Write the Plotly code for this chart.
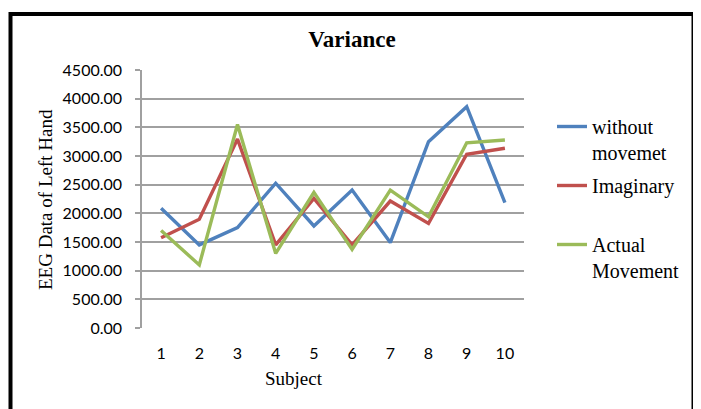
import plotly.graph_objects as go

subjects = [1, 2, 3, 4, 5, 6, 7, 8, 9, 10]
without_movement = [2090, 1450, 1750, 2525, 1780, 2405, 1490, 3250, 3860, 2185]
imaginary = [1575, 1895, 3295, 1450, 2260, 1450, 2215, 1825, 3030, 3135]
actual_movement = [1700, 1100, 3550, 1300, 2365, 1370, 2405, 1940, 3230, 3280]
series_names = ["without<br>movemet", "Imaginary<br> ", "Actual<br>Movement"]
colors = ["#4f81bd", "#c0504d", "#9bbb59"]
y_ticks = [0, 500, 1000, 1500, 2000, 2500, 3000, 3500, 4000, 4500]

# page body has an 8px margin; work in screen coordinates and convert
OFF = 8
W, H = 701 - OFF, 409 - OFF
L, R, T, B = 142 - OFF, 524 - OFF, 70 - OFF, 328 - OFF
pw, ph = R - L, B - T

def px(x):
    return (x - OFF - L) / pw

def py(y):
    return (B - (y - OFF)) / ph

fig = go.Figure()
for name, vals, c in zip(series_names, [without_movement, imaginary, actual_movement], colors):
    fig.add_trace(go.Scatter(x=subjects, y=vals, mode="lines", name=name,
                             line=dict(color=c, width=3.4), legendgroup=name))

serif = "Liberation Serif, Times New Roman, serif"
sans = "Lato, sans-serif"

fig.update_layout(
    width=W, height=H,
    margin=dict(l=L, r=W - R, t=T, b=H - B, autoexpand=False),
    paper_bgcolor="white", plot_bgcolor="white",
    title=dict(text="<b>Variance</b>", x=(352 - OFF) / W, xanchor="center",
               y=1 - (39 - OFF) / H, yanchor="middle", xref="container", yref="container",
               font=dict(family=serif, size=23, color="black")),
    xaxis=dict(range=[0.5, 10.5], tickmode="array", tickvals=subjects,
               ticktext=[str(s) for s in subjects], showgrid=False, zeroline=False,
               showline=False, ticks="", ticklabelstandoff=14,
               tickfont=dict(family=sans, size=16, color="black")),
    yaxis=dict(range=[0, 4500], tickmode="array", tickvals=y_ticks,
               ticktext=[f"{v:.2f}" for v in y_ticks], showgrid=True,
               gridcolor="#a0a0a0", gridwidth=1.5, zeroline=False,
               showline=True, linecolor="#a0a0a0", linewidth=1.5,
               ticks="outside", ticklen=5, tickcolor="#a0a0a0", tickwidth=1.5,
               ticklabelstandoff=10,
               tickfont=dict(family=sans, size=16, color="black")),
    legend=dict(x=px(552), y=py(107), xanchor="left", yanchor="top",
                valign="top", traceorder="grouped", tracegroupgap=4,
                font=dict(family=serif, size=20, color="black"),
                bgcolor="rgba(0,0,0,0)"),
    showlegend=True,
)

fig.add_annotation(text="EEG Data of Left Hand", textangle=-90, x=px(45), y=py(200),
                   xref="paper", yref="paper", xanchor="center", yanchor="middle",
                   showarrow=False, font=dict(family=serif, size=19, color="black"))
fig.add_annotation(text="Subject", x=px(294), y=py(378), xref="paper", yref="paper",
                   xanchor="center", yanchor="middle",
                   showarrow=False, font=dict(family=serif, size=19, color="black"))

fig.add_shape(type="rect", xref="paper", yref="paper",
              x0=px(10.5), x1=px(693.5), y0=py(440), y1=py(14),
              line=dict(color="black", width=4), fillcolor="rgba(0,0,0,0)", layer="above")

fig.write_html("out.html")
